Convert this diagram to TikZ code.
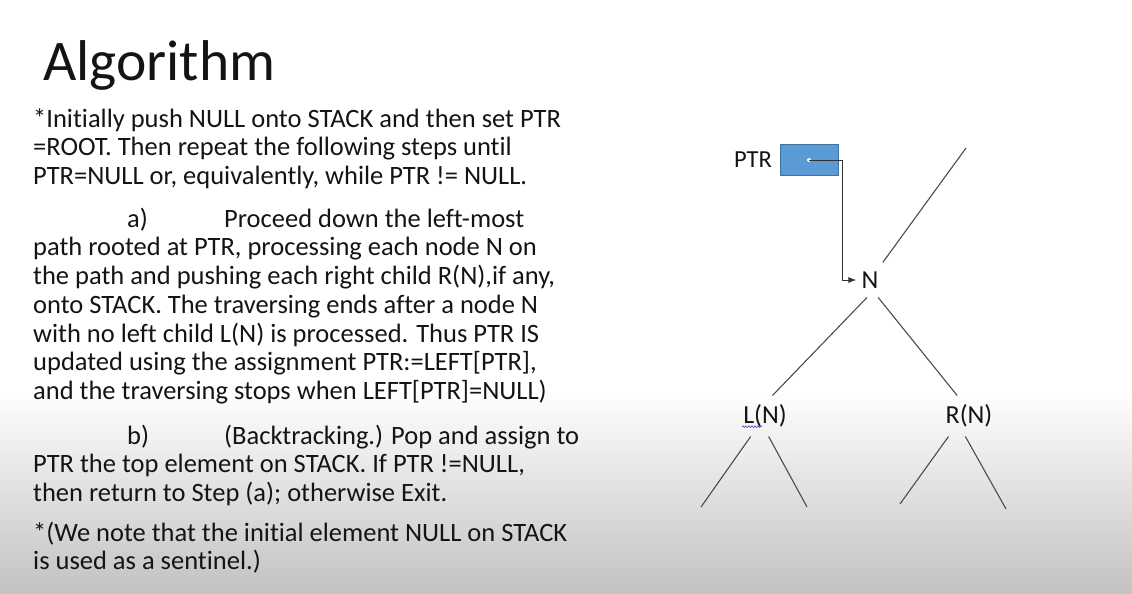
\documentclass[tikz,border=0pt]{standalone}
\usepackage{fontspec}
\setmainfont{Carlito}[Ligatures=NoCommon]
\usetikzlibrary{arrows.meta}
\usetikzlibrary{decorations.pathmorphing}
\definecolor{boxblue}{HTML}{5B9BD5}
\definecolor{boxedge}{HTML}{41719C}
\definecolor{inkgrey}{HTML}{141414}
\definecolor{squiggle}{HTML}{4040B0}
\tikzset{para/.style={anchor=north west, inner sep=0pt, align=left, text=inkgrey,
   font=\fontsize{26.5}{28.7}\selectfont}}
\tikzset{tnode/.style={inner sep=9pt, text=inkgrey, font=\fontsize{26}{28.7}\selectfont}}
\tikzset{edge/.style={line width=1.1pt, black!70}}

\begin{document}
\begin{tikzpicture}[x=1pt, y=-1pt]

    % page and the grey fade at the bottom
    \useasboundingbox (0,0) rectangle (1132,594);
    \shade[top color=white, bottom color=black!24] (0,390) rectangle (1132,594);

    % text on the left
    \node[anchor=base west, inner sep=0pt, text=inkgrey, font=\fontsize{57.5}{66}\selectfont] (title) at (43,81) {Algorithm};

    \node[para] (intro) at (33,107) {\strut*Initially push NULL onto STACK and then set PTR\\
      =ROOT. Then repeat the following steps until\\
      PTR=NULL or, equivalently, while PTR != NULL.};

    \node[para] (stepa) at (33,207) {\strut\hspace*{94pt}\makebox[97pt][l]{a)}Proceed down the left-most\\
      path rooted at PTR, processing each node N on\\
      the path and pushing each right child R(N),if any,\\
      onto STACK. The traversing ends after a node N\\
      with no left child L(N) is processed. Thus PTR IS\\
      updated using the assignment PTR:=LEFT[PTR],\\
      and the traversing stops when LEFT[PTR]=NULL)};

    \node[para] (stepb) at (33,424) {\strut\hspace*{94pt}\makebox[97pt][l]{b)}(Backtracking.) Pop and assign to\\
      PTR the top element on STACK. If PTR !=NULL,\\
      then return to Step (a); otherwise Exit.};

    \node[para] (note) at (33,521) {\strut*(We note that the initial element NULL on STACK\\
      is used as a sentinel.)};

    % pointer box
    \node[draw=boxedge, fill=boxblue, minimum width=58pt, minimum height=31pt, inner sep=0pt] (ptrbox) at (809,160) {};
    \node[anchor=east, inner sep=0pt, text=inkgrey, font=\fontsize{24.5}{28}\selectfont] (ptrlabel) at (772,160) {PTR};
    \fill[white] (ptrbox.center) circle (2pt);

    % tree
    \node[tnode] (n) at (870,280) {N};
    \node[tnode] (ln) at (765,416) {L(N)};
    \node[tnode] (rn) at (969,416) {R(N)};
    \coordinate (up) at (966,148);
    \coordinate (ll) at (701,507);
    \coordinate (lr) at (807,507);
    \coordinate (rl) at (900,504);
    \coordinate (rr) at (1006,509);

    \draw[edge] (n) -- (up);
    \draw[edge] (n.-100) -- (ln.70);
    \draw[edge] (n.-65) -- (rn.120);
    \draw[edge] (ln.-125) -- (ll);
    \draw[edge] (ln.-80) -- (lr);
    \draw[edge] (rn.-135) -- (rl);
    \draw[edge] (rn.-100) -- (rr);

    \draw[line width=0.9pt, black!80, -{Latex[length=8pt,width=6pt]}, shorten >=-4pt] (ptrbox.center) -- ++(33,0) |- (n);

    % spell check mark under L(N)
    \draw[squiggle, line width=0.6pt, decorate, decoration={snake, amplitude=0.8pt, segment length=3pt}]
      ([xshift=-1pt]ln.base west) ++(9,3) -- ++(20,0);

  \end{tikzpicture}
\end{document}
